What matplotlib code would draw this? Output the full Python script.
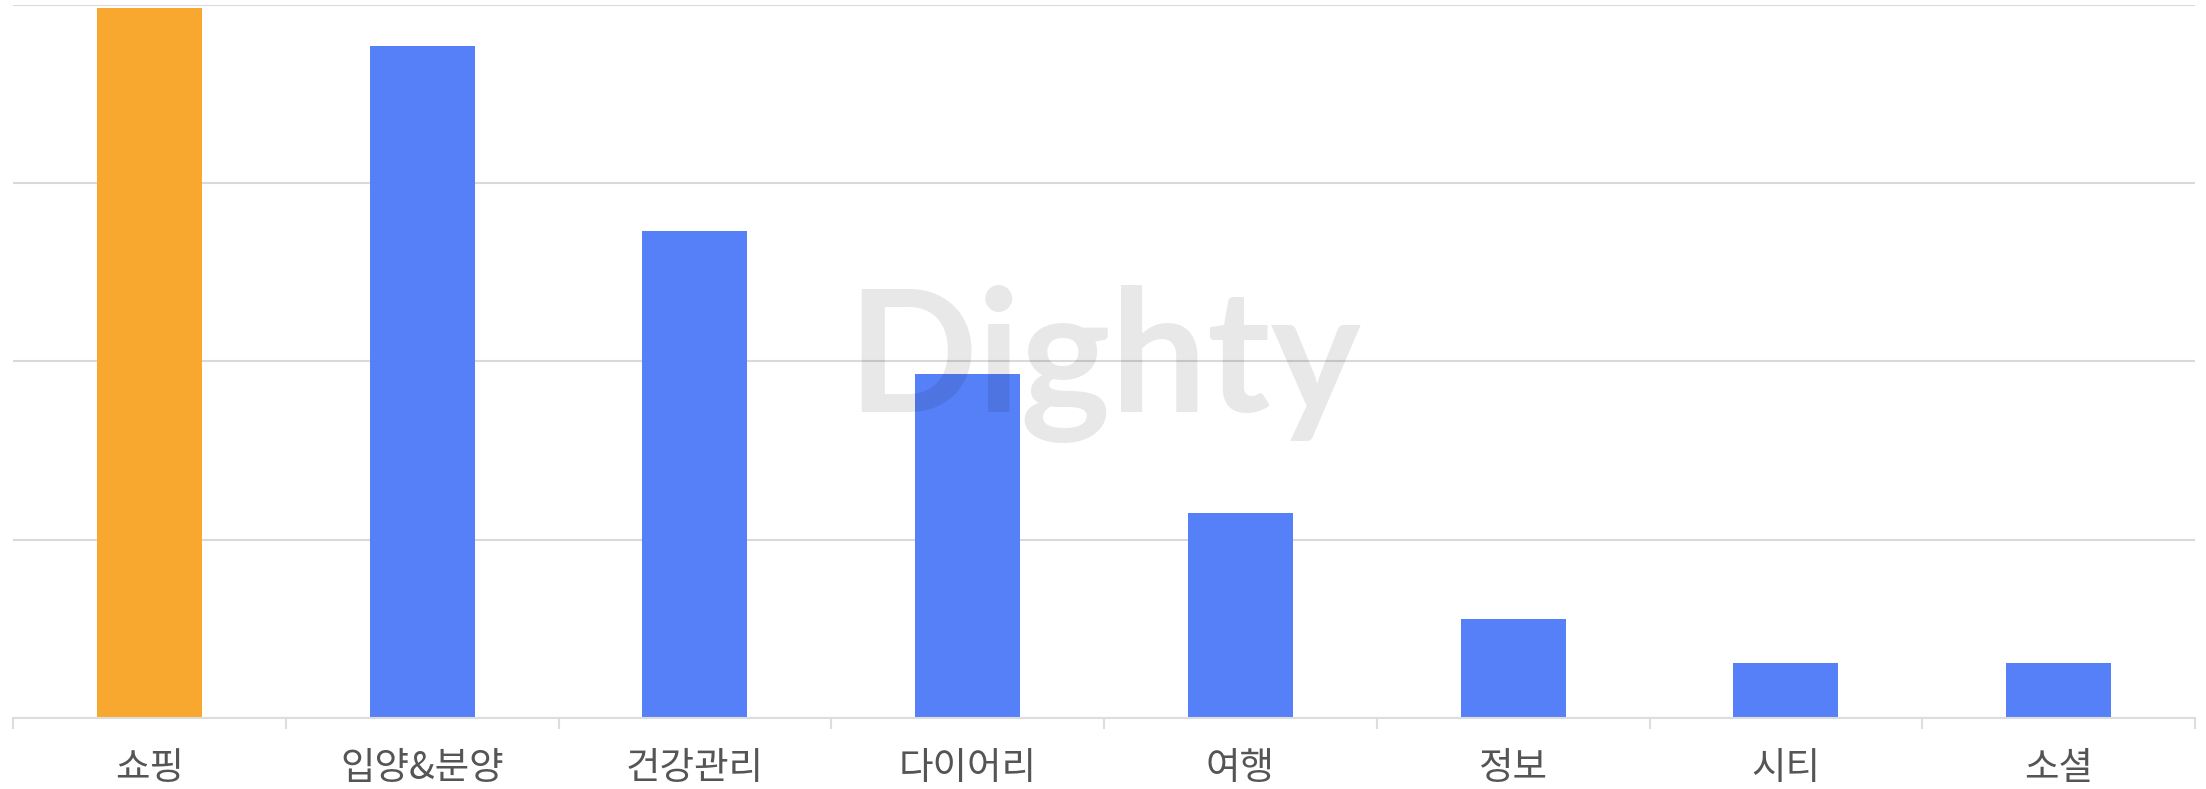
import matplotlib.pyplot as plt
import numpy as np

plt.rcParams["font.family"] = ["Noto Sans CJK KR", "DejaVu Sans"]

categories = ["쇼핑", "입양&분양", "건강관리", "다이어리", "여행", "정보", "시티", "소셜"]
values = [19.9, 18.84, 13.67, 9.65, 5.74, 2.78, 1.55, 1.53]
bar_colors = ["#f9a82f"] + ["#5580f7"] * 7
y_ticks = [0, 5, 10, 15, 20]

fig = plt.figure(figsize=(22.06, 7.89), dpi=100)
ax = fig.add_axes([13 / 2206, 1 - 718 / 789, 2182 / 2206, (718 - 4.8) / 789])

x = np.arange(len(categories))
ax.bar(x, values, width=0.385, color=bar_colors, zorder=2)

ax.set_xlim(-0.5, len(categories) - 0.5)
ax.set_ylim(0, 20)
ax.set_yticks(y_ticks)
ax.yaxis.grid(True, color="#d9d9d9", linewidth=1.5, zorder=0)
ax.tick_params(axis="y", length=0, labelleft=False)

ax.set_xticks(x)
ax.set_xticklabels(categories, fontsize=27, color="#555555", fontweight="light")
ax.tick_params(axis="x", which="major", length=0, pad=22)
ax.set_xticks(np.arange(-0.5, len(categories)), minor=True)
ax.tick_params(axis="x", which="minor", length=8, width=1.5, color="#dddddd")

for side in ["left", "right", "top"]:
    ax.spines[side].set_visible(False)
ax.spines["bottom"].set_color("#dddddd")
ax.spines["bottom"].set_linewidth(1.5)

# watermark
fig.text(1104 / 2206, 1 - 364 / 789, "Dighty", fontsize=123, fontweight="bold",
         family="Lato", color="black", alpha=0.09, ha="center", va="center",
         zorder=5)

fig.savefig("out.png", dpi=100)
